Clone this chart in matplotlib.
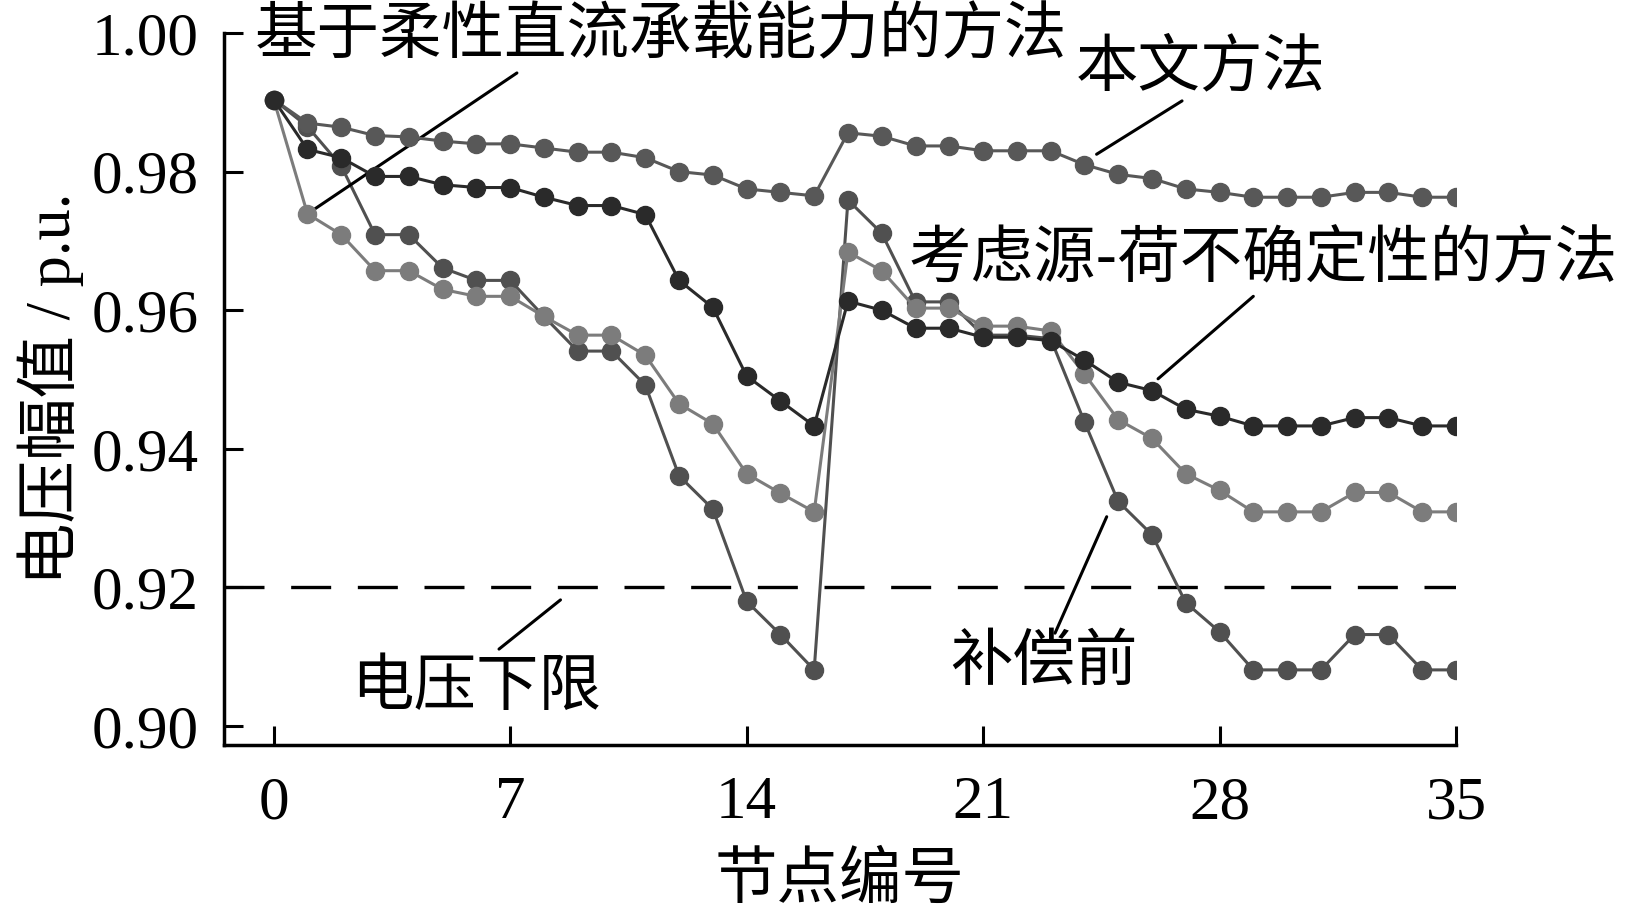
import matplotlib
matplotlib.use("Agg")
import matplotlib.pyplot as plt
import numpy as np

plt.rcParams['font.family'] = ['Liberation Serif', 'Noto Sans CJK SC', 'DejaVu Sans']

nodes = list(range(36))

proposed = [0.9904, 0.9870, 0.9864, 0.9852, 0.9850, 0.9844, 0.9840, 0.9840, 0.9834, 0.9828,
            0.9828, 0.9820, 0.9800, 0.9795, 0.9775, 0.9770, 0.9765, 0.9856, 0.9851, 0.9837,
            0.9837, 0.9830, 0.9830, 0.9830, 0.9810, 0.9796, 0.9790, 0.9775, 0.9770, 0.9763,
            0.9763, 0.9763, 0.9770, 0.9770, 0.9763, 0.9763]

uncertainty = [0.9904, 0.9832, 0.9820, 0.9793, 0.9793, 0.9781, 0.9777, 0.9777, 0.9763, 0.9751,
               0.9751, 0.9738, 0.9643, 0.9604, 0.9505, 0.9469, 0.9433, 0.9613, 0.9600, 0.9574,
               0.9574, 0.9561, 0.9561, 0.9556, 0.9528, 0.9496, 0.9484, 0.9457, 0.9447, 0.9433,
               0.9433, 0.9433, 0.9445, 0.9445, 0.9433, 0.9433]

vsc_capacity = [0.9904, 0.9739, 0.9709, 0.9657, 0.9657, 0.9630, 0.9620, 0.9620, 0.9591, 0.9564,
                0.9564, 0.9535, 0.9465, 0.9436, 0.9364, 0.9336, 0.9309, 0.9684, 0.9657, 0.9603,
                0.9603, 0.9577, 0.9577, 0.9570, 0.9508, 0.9442, 0.9415, 0.9364, 0.9340, 0.9309,
                0.9309, 0.9309, 0.9337, 0.9337, 0.9309, 0.9309]

before = [0.9904, 0.9865, 0.9808, 0.9709, 0.9709, 0.9661, 0.9643, 0.9643, 0.9591, 0.9541,
          0.9541, 0.9492, 0.9361, 0.9313, 0.9180, 0.9132, 0.9081, 0.9759, 0.9711, 0.9612,
          0.9612, 0.9564, 0.9564, 0.9559, 0.9439, 0.9324, 0.9276, 0.9178, 0.9136, 0.9081,
          0.9081, 0.9081, 0.9132, 0.9132, 0.9081, 0.9081]

v_limit = 0.92
xticks = [0, 7, 14, 21, 28, 35]
yticks = [0.90, 0.92, 0.94, 0.96, 0.98, 1.00]

fig = plt.figure(figsize=(16.27, 9.11), dpi=100)
ax = fig.add_axes([0.1377, 0.1822, 0.7572, 0.7816])

ax.axhline(v_limit, color='black', lw=2.4, dashes=(12, 8), zorder=1)

ms = 13
lw = 2.2
ax.plot(nodes, before, '-o', color='#505050', ms=ms, lw=lw, zorder=3)
ax.plot(nodes, vsc_capacity, '-o', color='#7c7c7c', ms=ms, lw=lw, zorder=4)
ax.plot(nodes, proposed, '-o', color='#585858', ms=ms, lw=lw, zorder=5)
ax.plot(nodes, uncertainty, '-o', color='#2a2a2a', ms=ms, lw=lw, zorder=6)

ax.set_xlim(-1.47, 35)
ax.set_ylim(0.89726, 1.0)
ax.set_xticks(xticks)
ax.set_xticklabels([str(t) for t in xticks])
ax.set_yticks(yticks)
ax.set_yticklabels([f"{t:.2f}" for t in yticks])

for s in ['top', 'right']:
    ax.spines[s].set_visible(False)
for s in ['left', 'bottom']:
    ax.spines[s].set_linewidth(2.5)
ax.tick_params(direction='in', length=14, width=2.2, labelsize=44)
ax.tick_params(axis='y', pad=18)
ax.tick_params(axis='x', pad=22)

ax.set_xlabel('节点编号', fontsize=45, family=['Noto Sans CJK SC'], labelpad=12)
ax.set_ylabel('电压幅值 / p.u.', fontsize=45, labelpad=6)

cjk = dict(fontsize=45, family=['Noto Sans CJK SC'], ha='center', va='center')
arr = dict(arrowstyle='-', color='black', lw=2.2, shrinkA=0, shrinkB=0)

ax.annotate('基于柔性直流承载能力的方法', xy=(1, vsc_capacity[1]), xytext=(11.46, 0.9996),
            annotation_clip=False, **cjk)
ax.annotate('', xy=(1, vsc_capacity[1]), xytext=(7.2, 0.99423), arrowprops=arr)

ax.annotate('本文方法', xy=(24.36, 0.9825), xytext=(27.45, 0.9951), **cjk)
ax.annotate('', xy=(24.36, 0.9825), xytext=(26.89, 0.9902), arrowprops=arr)

ax.annotate('考虑源-荷不确定性的方法', xy=(26.18, 0.9501), xytext=(29.30, 0.9674),
            annotation_clip=False, **cjk)
ax.annotate('', xy=(26.18, 0.9501), xytext=(29.0, 0.9620), arrowprops=arr)

ax.annotate('补偿前', xy=(24.66, 0.9302), xytext=(22.80, 0.9092), **cjk)
ax.annotate('', xy=(24.66, 0.9302), xytext=(23.13, 0.9134), arrowprops=arr)

ax.annotate('电压下限', xy=(8.49, 0.9182), xytext=(6.0, 0.9056), **cjk)
ax.annotate('', xy=(8.49, 0.9182), xytext=(6.67, 0.9111), arrowprops=arr)

fig.savefig('out.png', dpi=100)
